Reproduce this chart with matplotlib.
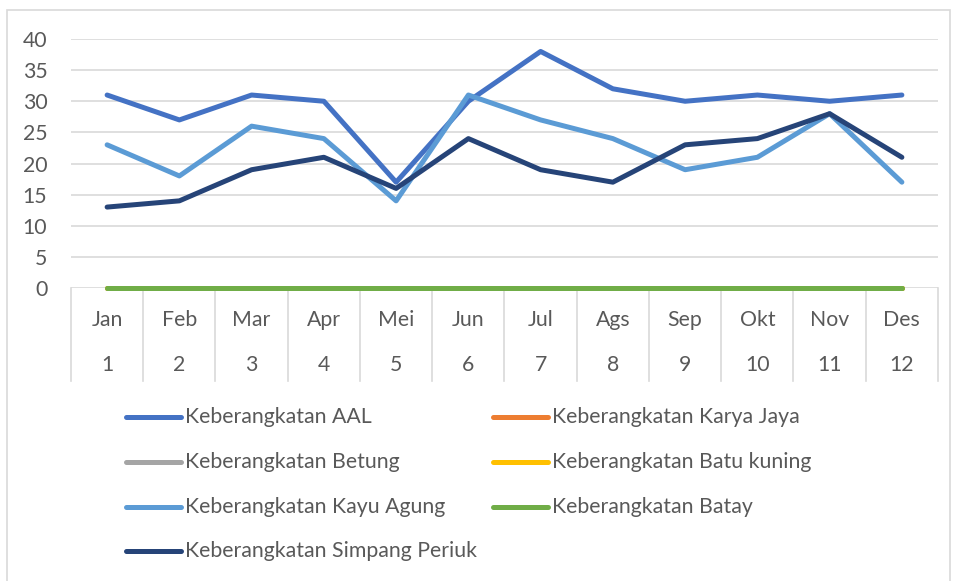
import matplotlib
matplotlib.use("Agg")
import matplotlib.pyplot as plt
from matplotlib.lines import Line2D
from matplotlib.patches import Rectangle

# data
months = ["Jan", "Feb", "Mar", "Apr", "Mei", "Jun", "Jul", "Ags", "Sep", "Okt", "Nov", "Des"]
month_nums = ["1", "2", "3", "4", "5", "6", "7", "8", "9", "10", "11", "12"]
aal = [31, 27, 31, 30, 17, 30, 38, 32, 30, 31, 30, 31]
karya_jaya = [0] * 12
betung = [0] * 12
batu_kuning = [0] * 12
kayu_agung = [23, 18, 26, 24, 14, 31, 27, 24, 19, 21, 28, 17]
batay = [0] * 12
simpang_periuk = [13, 14, 19, 21, 16, 24, 19, 17, 23, 24, 28, 21]

series = [
    ("Keberangkatan AAL", aal, "#4472C4"),
    ("Keberangkatan Karya Jaya", karya_jaya, "#ED7D31"),
    ("Keberangkatan Betung", betung, "#A5A5A5"),
    ("Keberangkatan Batu kuning", batu_kuning, "#FFC000"),
    ("Keberangkatan Kayu Agung", kayu_agung, "#5B9BD5"),
    ("Keberangkatan Batay", batay, "#70AD47"),
    ("Keberangkatan Simpang Periuk", simpang_periuk, "#264478"),
]

plt.rcParams['font.family'] = ['Lato', 'DejaVu Sans']
TXT = "#595959"
GRID = "#D9D9D9"
FS = 15.3
W, H = 957, 581

fig = plt.figure(figsize=(W / 100, H / 100), dpi=100)
ax_l, ax_r, ax_t, ax_b = 71, 938, 39, 288
ax = fig.add_axes([ax_l / W, 1 - ax_b / H, (ax_r - ax_l) / W, (ax_b - ax_t) / H])

x = list(range(len(months)))
for name, vals, col in series:
    ax.plot(x, vals, color=col, lw=3.6, solid_capstyle="round", solid_joinstyle="round",
            zorder=3, clip_on=False)

ax.set_xlim(-0.5, len(months) - 0.5)
ax.set_ylim(0, 40)
ax.set_yticks(range(0, 41, 5))
ax.tick_params(axis="y", length=0, pad=17, labelsize=FS, labelcolor=TXT)
ax.set_xticks([])
ax.grid(axis="y", color=GRID, lw=1.2)
ax.set_axisbelow(True)
for s in ax.spines.values():
    s.set_visible(False)

# multi-level category axis
ax_h = ax_b - ax_t
trans = ax.get_xaxis_transform()
y_bot = -(381 - ax_b) / ax_h
for i in range(len(months) + 1):
    ax.plot([i - 0.5, i - 0.5], [0, y_bot], transform=trans, color=GRID, lw=1.2, clip_on=False)
for i, (m, n) in enumerate(zip(months, month_nums)):
    ax.text(i, -(320 - ax_b) / ax_h, m, transform=trans, ha="center", va="center", fontsize=FS, color=TXT)
    ax.text(i, -(365 - ax_b) / ax_h, n, transform=trans, ha="center", va="center", fontsize=FS, color=TXT)

# legend (Excel layout, 2 columns, row-wise)
leg_rows = [417, 462, 507, 551]
leg_cols = [126, 493]
for k, (name, vals, col) in enumerate(series):
    r, c = divmod(k, 2)
    yy = 1 - leg_rows[r] / H
    x0 = leg_cols[c]
    fig.add_artist(Line2D([x0 / W, (x0 + 55) / W], [yy, yy], color=col, lw=3.6,
                          solid_capstyle="round"))
    fig.text((x0 + 59) / W, yy, name, ha="left", va="center", fontsize=FS, color=TXT)

# chart border
fig.add_artist(Rectangle((7 / W, -0.01), (950 - 7) / W, 1 - 10 / H + 0.01, transform=fig.transFigure,
                         fill=False, edgecolor=GRID, lw=1.2))

fig.savefig("out.png", dpi=100, facecolor="white")
